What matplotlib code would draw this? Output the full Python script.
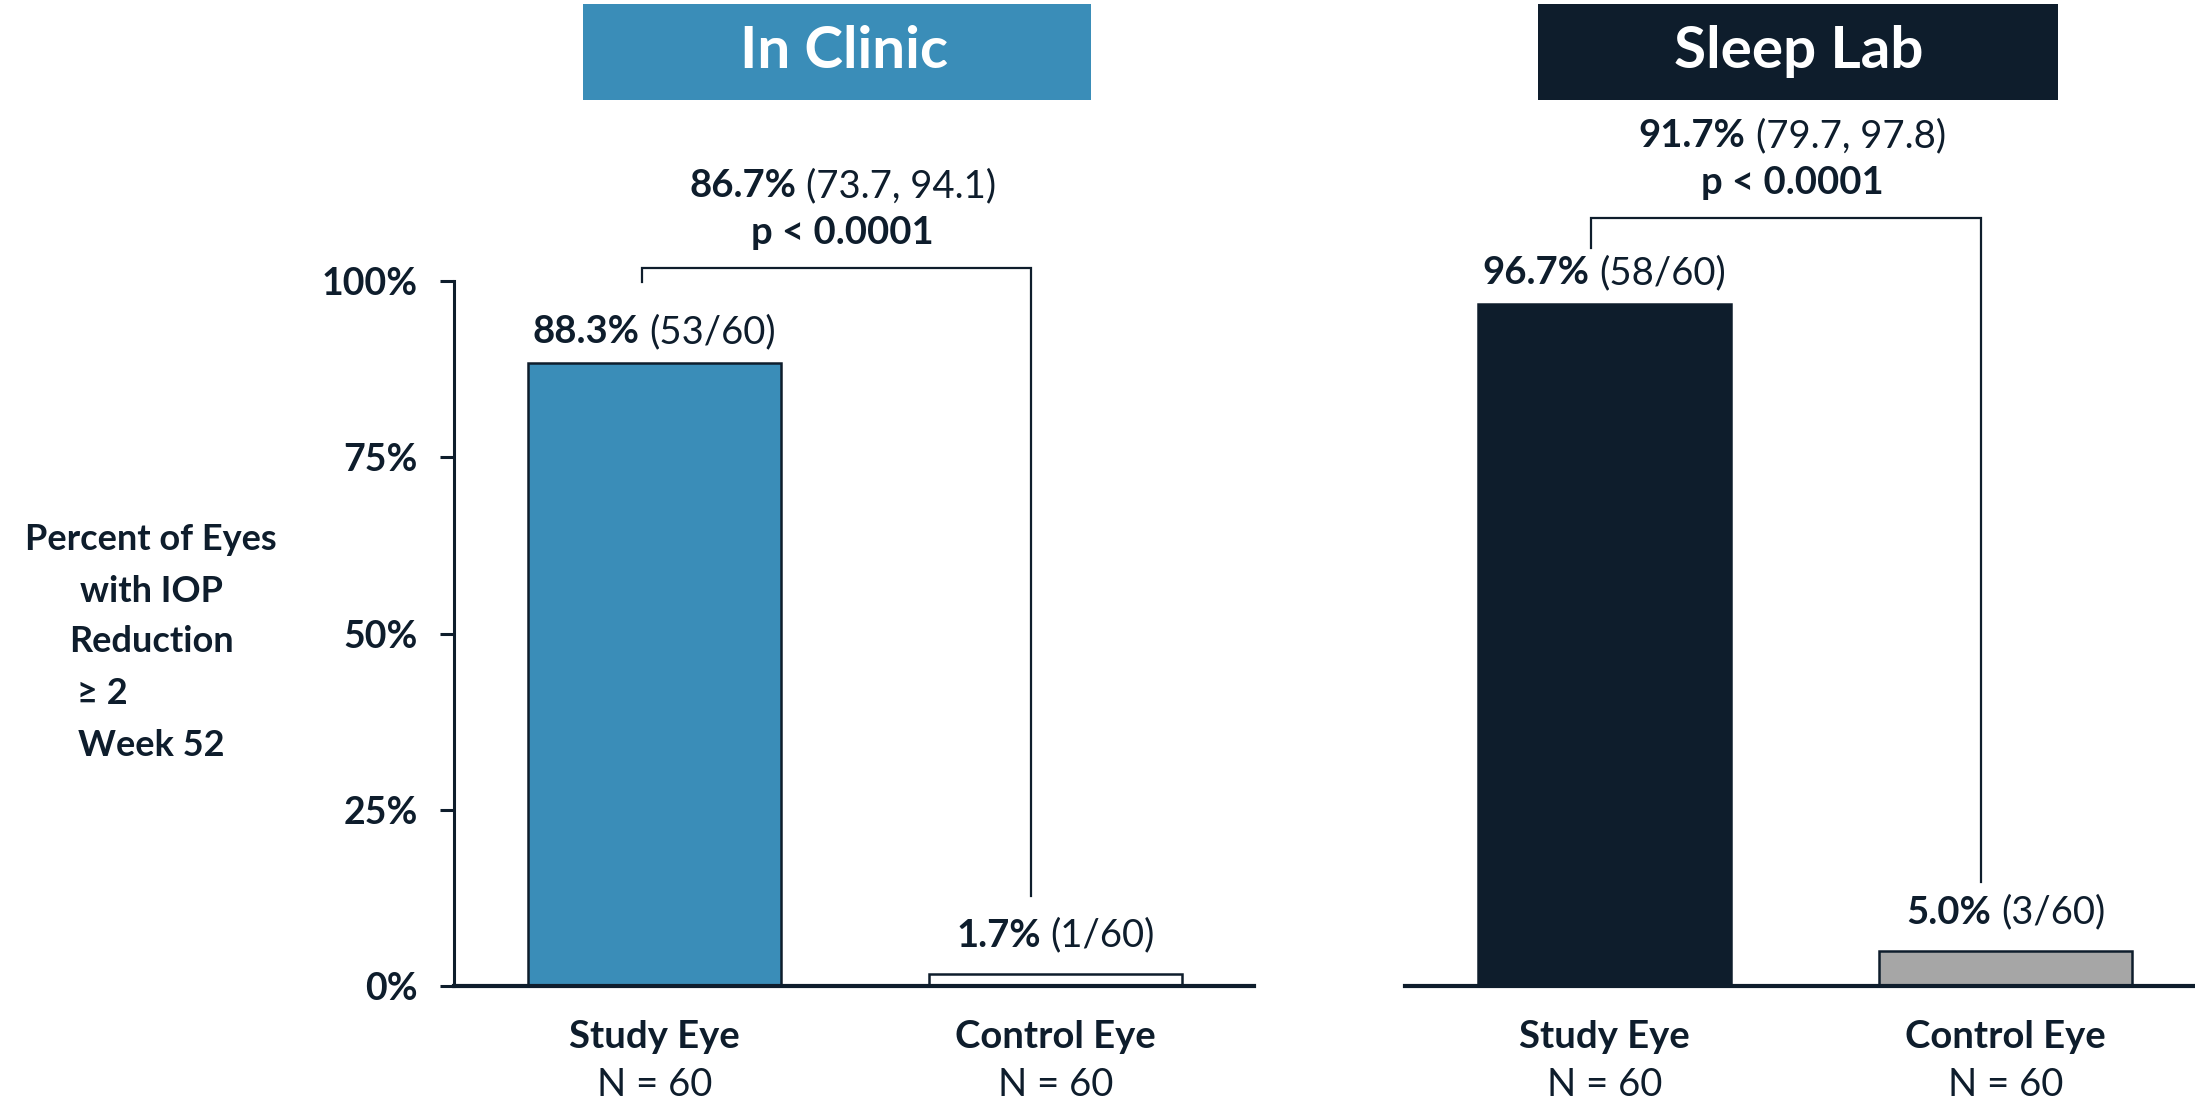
import matplotlib
matplotlib.use("Agg")
import matplotlib.pyplot as plt
from matplotlib.patches import Rectangle
from matplotlib.transforms import offset_copy

# Daten
panels = ["In Clinic", "Sleep Lab"]
categories = ["Study Eye", "Control Eye"]
n_labels = ["N = 60", "N = 60"]
clinic_pct = [88.3, 1.7]
clinic_counts = ["(53/60)", "(1/60)"]
sleep_pct = [96.7, 5.0]
sleep_counts = ["(58/60)", "(3/60)"]
diff_pct = [86.7, 91.7]
diff_ci = ["(73.7, 94.1)", "(79.7, 97.8)"]
p_labels = ["p < 0.0001", "p < 0.0001"]
yticks = [0, 25, 50, 75, 100]
ytick_labels = ["0%", "25%", "50%", "75%", "100%"]
ylabel_lines = ["Percent of Eyes", "with IOP", "Reduction", "\u2265 2", "Week 52"]

NAVY = "#0E1D2C"
BLUE = "#3A8DB8"
GRAY = "#A6A6A6"
W, H = 2195, 1103
DPI = 100
FS = 27.5

plt.rcParams['font.family'] = ['Lato', 'DejaVu Sans']

fig = plt.figure(figsize=(W / DPI, H / DPI), dpi=DPI)
renderer = fig.canvas.get_renderer()


def px_rect(x0, x1, y_top, y_bot):
    return [x0 / W, 1 - y_bot / H, (x1 - x0) / W, (y_bot - y_top) / H]


def mixed_label(ax, x, y, bold_part, rest, dy_px, size):
    # fett + normal in einer zentrierten Zeile
    t1 = ax.text(x, y, bold_part, fontsize=size, fontweight='bold', color=NAVY,
                 ha='left', va='baseline', clip_on=False)
    t2 = ax.text(x, y, rest, fontsize=size, color=NAVY,
                 ha='left', va='baseline', clip_on=False)
    w1 = t1.get_window_extent(renderer).width
    w2 = t2.get_window_extent(renderer).width
    gap = size * 0.26 * DPI / 72
    total = w1 + gap + w2
    base = dy_px - 0.36 * size * DPI / 72
    t1.set_transform(offset_copy(ax.transData, fig=fig, x=-total / 2, y=base, units='dots'))
    t2.set_transform(offset_copy(ax.transData, fig=fig, x=-total / 2 + w1 + gap, y=base, units='dots'))


ax1 = fig.add_axes(px_rect(454, 1254, 281, 986))
ax2 = fig.add_axes(px_rect(1405, 2195, 281, 986))

x = [0, 1]
bar_w = 0.63

ax1.bar(x, clinic_pct, width=bar_w, color=[BLUE, "white"], edgecolor=NAVY, linewidth=1.8, zorder=3)
ax2.bar(x, sleep_pct, width=bar_w, color=[NAVY, GRAY], edgecolor=NAVY, linewidth=1.8, zorder=3)

ax1.set_xlim(-0.5, 1.495)
ax2.set_xlim(-0.4975, 1.4726)
for ax in (ax1, ax2):
    ax.set_ylim(0, 100)
    ax.spines['top'].set_visible(False)
    ax.spines['right'].set_visible(False)
    ax.spines['bottom'].set_linewidth(3.0)
    ax.spines['bottom'].set_color(NAVY)
    ax.spines['bottom'].set_zorder(4)
    ax.set_xticks([])
    ax.patch.set_alpha(0)

ax1.spines['left'].set_linewidth(2.2)
ax1.spines['left'].set_color(NAVY)
ax1.set_yticks(yticks)
ax1.set_yticklabels(ytick_labels)
ax1.tick_params(axis='y', length=10, width=2.2, color=NAVY, pad=16, labelsize=27,
                labelcolor=NAVY)
for lab in ax1.get_yticklabels():
    lab.set_fontweight('bold')

ax2.spines['left'].set_visible(False)
ax2.set_yticks([])

# Balkenbeschriftungen
label_off = [34, 41]
for ax, vals, counts in ((ax1, clinic_pct, clinic_counts), (ax2, sleep_pct, sleep_counts)):
    for i, (v, c) in enumerate(zip(vals, counts)):
        mixed_label(ax, x[i], v, f"{v:.1f}%", c, label_off[i], FS)

# Klammern
brackets = [(-0.032, 0.94, 101.8, 99.9, 12.8), (-0.034, 0.94, 108.9, 104.7, 14.75)]
for k, ax in enumerate((ax1, ax2)):
    xl, xr, top, lb, rb = brackets[k]
    ax.plot([xl, xl, xr, xr], [lb, top, top, rb], color=NAVY, linewidth=1.6,
            clip_on=False, solid_joinstyle='miter', zorder=5)
    xc = (xl + xr) / 2 + 0.015
    mixed_label(ax, xc, top, f"{diff_pct[k]:.1f}%", diff_ci[k], 85, FS)
    ax.annotate(p_labels[k], (xc, top), xytext=(0, 35), textcoords='offset pixels',
                ha='center', va='center', fontsize=FS, fontweight='bold', color=NAVY,
                annotation_clip=False)

# Kategorien unter den Balken
for ax in (ax1, ax2):
    for i in range(2):
        ax.annotate(categories[i], (x[i], 0), xytext=(0, -51), textcoords='offset pixels',
                    ha='center', va='center', fontsize=FS, fontweight='bold', color=NAVY,
                    annotation_clip=False)
        ax.annotate(n_labels[i], (x[i], 0), xytext=(0, -99), textcoords='offset pixels',
                    ha='center', va='center', fontsize=FS, color=NAVY,
                    annotation_clip=False)

# Titelboxen
boxes = [(583, 1091, BLUE, 844), (1538, 2058, NAVY, 1799)]
for (x0, x1, col, tx), title in zip(boxes, panels):
    fig.patches.append(Rectangle((x0 / W, 1 - 100 / H), (x1 - x0) / W, 96 / H,
                                 transform=fig.transFigure, facecolor=col, edgecolor='none'))
    fig.text(tx / W, 1 - 52 / H, title, ha='center', va='center', fontsize=42,
             fontweight='bold', color='white')

# y-Achsentitel
ylab_y = [540, 592, 642, 693, 745]
for line, yy in zip(ylabel_lines, ylab_y):
    if line.startswith("\u2265"):
        fig.text(77 / W, 1 - yy / H, line, ha='left', va='center', fontsize=26,
                 fontweight='bold', color=NAVY)
    else:
        fig.text(151 / W, 1 - yy / H, line, ha='center', va='center', fontsize=26,
                 fontweight='bold', color=NAVY)

fig.savefig("out.png", dpi=DPI)
